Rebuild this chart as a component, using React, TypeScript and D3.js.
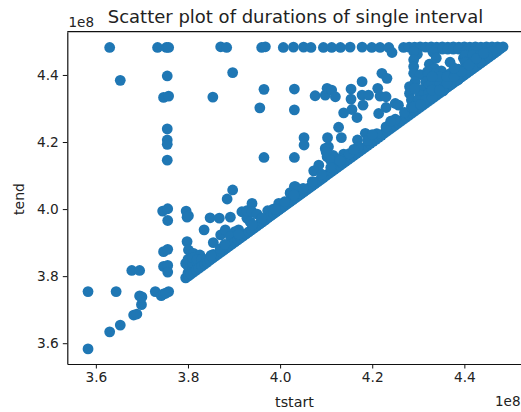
import React, { useEffect, useRef } from 'react';
import * as d3 from 'd3';

type Pt = [number, number];

// all values in units of 1e8: [tstart, tend]
const topRow: Pt[] = [
  [3.63, 4.482], [3.734, 4.482], [3.753, 4.482], [3.758, 4.482], [3.871, 4.484], [3.884, 4.482], [3.96, 4.482], [3.968, 4.484],
  [4.007, 4.482], [4.029, 4.483], [4.051, 4.483], [4.067, 4.482], [4.094, 4.482], [4.112, 4.482], [4.131, 4.482], [4.152, 4.483],
  [4.178, 4.483], [4.199, 4.482], [4.217, 4.482], [4.236, 4.482], [4.243, 4.467], [4.268, 4.482], [4.28, 4.483], [4.292, 4.483],
  [4.304, 4.484], [4.316, 4.483], [4.328, 4.484], [4.34, 4.483], [4.352, 4.484], [4.364, 4.483], [4.376, 4.484], [4.388, 4.483],
  [4.4, 4.484], [4.412, 4.483], [4.424, 4.484], [4.436, 4.483], [4.448, 4.484], [4.46, 4.484], [4.472, 4.484], [4.484, 4.484],
];

const scatteredHigh: Pt[] = [
  [3.653, 4.384], [3.755, 4.397], [3.747, 4.333], [3.758, 4.337], [3.854, 4.334], [3.897, 4.407], [3.965, 4.357], [3.956, 4.302],
  [3.755, 4.239], [3.755, 4.206], [3.755, 4.193], [3.755, 4.146], [3.965, 4.154], [3.897, 4.057], [3.885, 4.03],
  [4.031, 4.358], [4.031, 4.296], [4.031, 4.154], [4.076, 4.338], [4.098, 4.34], [4.102, 4.36], [4.112, 4.355], [4.12, 4.335],
  [4.154, 4.358], [4.154, 4.328], [4.178, 4.38], [4.178, 4.34], [4.18, 4.31], [4.192, 4.34], [4.212, 4.36], [4.217, 4.337],
  [4.23, 4.335], [4.221, 4.405], [4.232, 4.39], [4.25, 4.315], [4.23, 4.303], [4.214, 4.285], [4.257, 4.31], [4.138, 4.287],
  [4.156, 4.297], [4.167, 4.273], [4.127, 4.244], [4.133, 4.213], [4.103, 4.213], [4.052, 4.213], [4.052, 4.191], [4.105, 4.186],
  [4.098, 4.181], [4.185, 4.226], [4.168, 4.206], [4.138, 4.164], [4.102, 4.156], [4.115, 4.16], [4.084, 4.131], [4.073, 4.114],
  [4.031, 4.067], [4.022, 4.047], [4.243, 4.256], [4.1, 4.17], [4.11, 4.145], [4.15, 4.16], [4.13, 4.15],
];

const scatteredLow: Pt[] = [
  [3.583, 3.583], [3.583, 3.754], [3.644, 3.754], [3.63, 3.634], [3.653, 3.654], [3.682, 3.684], [3.689, 3.687], [3.699, 3.715],
  [3.695, 3.741], [3.7, 3.738], [3.678, 3.817], [3.695, 3.817], [3.729, 3.754], [3.742, 3.742], [3.747, 3.747], [3.758, 3.754],
  [3.752, 3.749], [3.747, 3.829], [3.756, 3.832], [3.756, 3.812], [3.747, 3.873], [3.756, 3.88], [3.745, 3.994], [3.756, 4.001],
  [3.756, 3.966], [3.796, 3.994], [3.801, 3.98], [3.798, 3.976], [3.848, 3.974], [3.868, 3.973], [3.892, 3.976], [3.917, 3.992],
  [3.835, 3.938], [3.855, 3.9], [3.871, 3.923], [3.881, 3.938], [3.798, 3.903], [3.928, 3.973], [3.928, 3.995], [3.939, 4.017],
  [3.939, 3.992], [3.935, 3.962], [3.91, 3.938], [3.902, 3.933], [3.892, 3.918], [3.95, 3.985], [3.96, 3.97], [3.973, 3.995],
  [3.985, 4.0], [3.997, 4.017], [4.033, 4.067], [4.022, 4.049],
];

const cluster38: Pt[] = [
  [3.795, 3.838], [3.801, 3.878], [3.812, 3.868], [3.826, 3.863], [3.834, 3.838], [3.8, 3.81], [3.8, 3.83], [3.8, 3.85],
  [3.81, 3.82], [3.81, 3.84], [3.81, 3.855], [3.82, 3.84], [3.82, 3.85], [3.83, 3.85], [3.84, 3.85], [3.855, 3.865],
];

const diagonal: Pt[] = [
  [3.795, 3.795], [3.801, 3.801], [3.806, 3.806], [3.812, 3.812], [3.818, 3.818], [3.824, 3.824], [3.83, 3.83], [3.836, 3.836],
  [3.842, 3.842], [3.848, 3.848], [3.854, 3.854], [3.86, 3.86], [3.866, 3.866], [3.872, 3.872], [3.878, 3.878], [3.884, 3.884],
  [3.89, 3.89], [3.896, 3.896], [3.902, 3.902], [3.908, 3.908], [3.914, 3.914], [3.92, 3.92], [3.926, 3.926], [3.932, 3.932],
  [3.938, 3.938], [3.944, 3.944], [3.95, 3.95], [3.956, 3.956], [3.962, 3.962], [3.968, 3.968], [3.974, 3.974], [3.98, 3.98],
  [3.986, 3.986], [3.992, 3.992], [3.998, 3.998], [4.004, 4.004], [4.01, 4.01], [4.016, 4.016], [4.022, 4.022], [4.028, 4.028],
  [4.034, 4.034], [4.04, 4.04], [4.046, 4.046], [4.052, 4.052], [4.058, 4.058], [4.064, 4.064], [4.07, 4.07], [4.076, 4.076],
  [4.082, 4.082], [4.088, 4.088], [4.094, 4.094], [4.1, 4.1], [4.106, 4.106], [4.112, 4.112], [4.118, 4.118], [4.124, 4.124],
  [4.13, 4.13], [4.136, 4.136], [4.142, 4.142], [4.148, 4.148], [4.154, 4.154], [4.16, 4.16], [4.166, 4.166], [4.172, 4.172],
  [4.178, 4.178], [4.184, 4.184], [4.19, 4.19], [4.196, 4.196], [4.202, 4.202], [4.208, 4.208], [4.214, 4.214], [4.22, 4.22],
  [4.226, 4.226], [4.232, 4.232], [4.238, 4.238], [4.244, 4.244], [4.25, 4.25], [4.256, 4.256], [4.262, 4.262], [4.268, 4.268],
  [4.274, 4.274], [4.28, 4.28], [4.286, 4.286], [4.292, 4.292], [4.298, 4.298], [4.304, 4.304], [4.31, 4.31], [4.316, 4.316],
  [4.322, 4.322], [4.328, 4.328], [4.334, 4.334], [4.34, 4.34], [4.346, 4.346], [4.352, 4.352], [4.358, 4.358], [4.364, 4.364],
  [4.37, 4.37], [4.376, 4.376], [4.382, 4.382], [4.388, 4.388], [4.394, 4.394], [4.4, 4.4], [4.406, 4.406], [4.412, 4.412],
  [4.418, 4.418], [4.424, 4.424], [4.43, 4.43], [4.436, 4.436], [4.442, 4.442], [4.448, 4.448], [4.454, 4.454], [4.46, 4.46],
  [4.466, 4.466], [4.472, 4.472], [4.478, 4.478],
];

const diagonalUpper: Pt[] = [
  [3.85, 3.862], [3.87, 3.882], [3.88, 3.895], [3.91, 3.925], [3.94, 3.953], [3.96, 3.973], [3.99, 4.0], [4.01, 4.022],
  [4.03, 4.042], [4.05, 4.062], [4.07, 4.082], [4.09, 4.104], [4.11, 4.124], [4.13, 4.144], [4.15, 4.165], [4.17, 4.185],
  [4.19, 4.205], [4.21, 4.225], [4.23, 4.245], [4.25, 4.268], [4.27, 4.288], [4.285, 4.305], [4.2, 4.222], [4.16, 4.178],
  [4.24, 4.262],
];

// dense corner, rows from the top down; the gaps leave the small white holes
const denseCorner: Pt[] = [
  [4.34, 4.477], [4.352, 4.477], [4.364, 4.477], [4.376, 4.477], [4.388, 4.477], [4.402, 4.47], [4.42, 4.47], [4.44, 4.47], [4.46, 4.47],
  [4.298, 4.462], [4.29, 4.47], [4.29, 4.445], [4.29, 4.425], [4.324, 4.432], [4.332, 4.468], [4.339, 4.45], [4.335, 4.42],
  [4.35, 4.412], [4.369, 4.438], [4.387, 4.417], [4.398, 4.45],
  [4.402, 4.459], [4.418, 4.459], [4.434, 4.459], [4.45, 4.459], [4.402, 4.438], [4.418, 4.438], [4.434, 4.438], [4.402, 4.42],
  [4.418, 4.42], [4.29, 4.405], [4.304, 4.401], [4.32, 4.41], [4.322, 4.401], [4.338, 4.405], [4.354, 4.403], [4.37, 4.405],
  [4.386, 4.403], [4.402, 4.405], [4.293, 4.379], [4.316, 4.379], [4.338, 4.385], [4.354, 4.385], [4.37, 4.385], [4.386, 4.385],
  [4.281, 4.365], [4.322, 4.365], [4.338, 4.365], [4.354, 4.365], [4.37, 4.372], [4.281, 4.345], [4.304, 4.356], [4.304, 4.34], [4.322, 4.345],
  [4.338, 4.345], [4.354, 4.352], [4.285, 4.325], [4.3, 4.325], [4.315, 4.325], [4.33, 4.332], [4.29, 4.305], [4.305, 4.312],
  [4.292, 4.36], [4.33, 4.375], [4.346, 4.375], [4.362, 4.375], [4.346, 4.395], [4.362, 4.395], [4.378, 4.395], [4.33, 4.355],
  [4.346, 4.355], [4.33, 4.395], [4.394, 4.41], [4.41, 4.43], [4.426, 4.449], [4.442, 4.465], [4.378, 4.42],
];

const xTicks = [3.6, 3.8, 4.0, 4.2, 4.4];
const yTicks = [3.6, 3.8, 4.0, 4.2, 4.4];

const WIDTH = 521;
const HEIGHT = 412;
const FONT = '"DejaVu Sans", sans-serif';

export default function App() {
  const ref = useRef<SVGSVGElement | null>(null);

  useEffect(() => {
    const svg = d3.select(ref.current);
    svg.selectAll('*').remove();

    const x = d3.scaleLinear().domain([3.538, 4.523]).range([67.3, WIDTH]);
    const y = d3.scaleLinear().domain([3.538, 4.529]).range([364, 31.7]);

    const points = [...topRow, ...scatteredHigh, ...scatteredLow, ...cluster38, ...diagonal, ...diagonalUpper, ...denseCorner];

    svg.append('g')
      .selectAll('circle')
      .data(points)
      .enter()
      .append('circle')
      .attr('cx', (d) => x(d[0]))
      .attr('cy', (d) => y(d[1]))
      .attr('r', 5.4)
      .attr('fill', '#1f77b4');

    // bottom axis, no right spine in the picture
    const gx = svg.append('g')
      .attr('transform', `translate(0,364)`)
      .call(d3.axisBottom(x).tickValues(xTicks).tickFormat(d3.format('.1f') as any).tickSize(4.5).tickSizeOuter(0).tickPadding(4));
    const gy = svg.append('g')
      .attr('transform', `translate(67.3,0)`)
      .call(d3.axisLeft(y).tickValues(yTicks).tickFormat(d3.format('.1f') as any).tickSize(4.5).tickSizeOuter(0).tickPadding(4));

    [gx, gy].forEach((g) => {
      g.selectAll('text').style('font-family', FONT).style('font-size', '13.7px').attr('fill', '#222');
      g.selectAll('line').attr('stroke', '#111').attr('stroke-width', 1);
      g.select('.domain').attr('stroke', '#111').attr('stroke-width', 1.2);
    });

    svg.append('line')
      .attr('x1', 67.3).attr('x2', WIDTH).attr('y1', 31.7).attr('y2', 31.7)
      .attr('stroke', '#111').attr('stroke-width', 1.2);

    const label = (t: string, px: number, py: number, size: number, anchor = 'middle') =>
      svg.append('text')
        .attr('x', px).attr('y', py)
        .attr('text-anchor', anchor)
        .style('font-family', FONT)
        .style('font-size', `${size}px`)
        .attr('fill', '#222')
        .text(t);

    label('Scatter plot of durations of single interval', 295.5, 22.5, 18);
    label('1e8', 68.5, 26.5, 13.5, 'start');
    label('1e8', 495, 406, 13.5, 'start');
    label('tstart', 294.5, 407, 14.3);
    label('tend', 0, 0, 14).attr('transform', 'translate(24,199) rotate(-90)');
  }, []);

  return (
    <svg ref={ref} width={WIDTH} height={HEIGHT} style={{ position: 'absolute', left: 0, top: 0, background: '#fff' }} />
  );
}
